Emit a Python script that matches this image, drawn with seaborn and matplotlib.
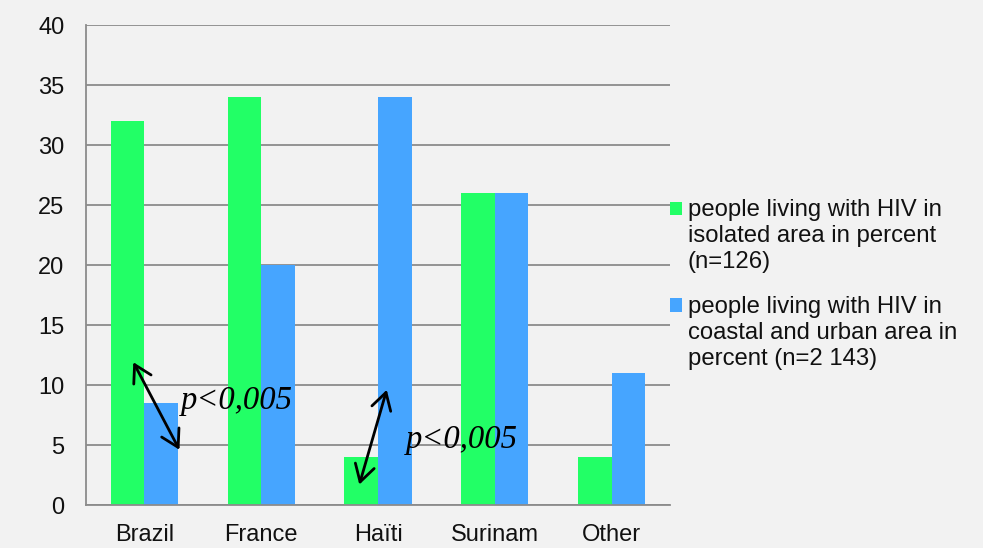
import matplotlib
matplotlib.use("Agg")
import matplotlib.pyplot as plt
import matplotlib.patches as mpatches
from matplotlib.legend_handler import HandlerPatch
import seaborn as sns
import pandas as pd

# Country of origin of people living with HIV, by area of residence
countries = ["Brazil", "France", "Haïti", "Surinam", "Other"]
isolated_pct = [32, 34, 4, 26, 4]
coastal_pct = [8.5, 20, 34, 26, 11]
series_labels = [
    "people living with HIV in\nisolated area in percent\n(n=126)",
    "people living with HIV in\ncoastal and urban area in\npercent (n=2 143)",
]
y_ticks = [0, 5, 10, 15, 20, 25, 30, 35, 40]

df = pd.DataFrame({
    "country": countries * 2,
    "percent": isolated_pct + coastal_pct,
    "group": [series_labels[0]] * len(countries) + [series_labels[1]] * len(countries),
})

sns.set_style("white")
plt.rcParams["font.family"] = ["Liberation Sans", "DejaVu Sans"]

bg = "#F2F2F2"
grid_c = "#8C8C8C"
text_c = "#111111"
fig = plt.figure(figsize=(9.83, 5.48), dpi=100, facecolor=bg)
ax = fig.add_axes([86 / 983, 1 - 505 / 548, (670 - 86) / 983, (505 - 25) / 548])
ax.set_facecolor(bg)

sns.barplot(data=df, x="country", y="percent", hue="group",
            palette=["#22FF66", "#46A5FF"], width=0.575, gap=0,
            saturation=1, linewidth=0, ax=ax)

ax.set_xlim(-0.5, len(countries) - 0.5)
ax.set_ylim(0, 40)
ax.set_yticks(y_ticks)
ax.set_xlabel("")
ax.set_ylabel("")
ax.yaxis.grid(True, color=grid_c, linewidth=1.3)
ax.set_axisbelow(True)
for side in ("top", "right"):
    ax.spines[side].set_visible(False)
for side in ("left", "bottom"):
    ax.spines[side].set_color(grid_c)
    ax.spines[side].set_linewidth(1.3)

# x ticks sit between the categories, labels at the centres
ax.set_xticks([i + 0.5 for i in range(-1, len(countries))], minor=False)
ax.set_xticklabels([])
ax.set_xticks(range(len(countries)), labels=countries, minor=True)
ax.tick_params(axis="x", which="major", length=3.8, width=1.3, color=grid_c, direction="out")
ax.tick_params(axis="x", which="minor", length=0, labelsize=17, pad=14, labelcolor=text_c)
ax.tick_params(axis="y", length=4.5, width=1.3, color=grid_c, direction="out",
               labelsize=17, pad=11, labelcolor=text_c)

# significance markers
arrow_kw = dict(arrowstyle="<->,head_length=0.55,head_width=0.32", color="black",
                lw=2, mutation_scale=22, shrinkA=0, shrinkB=0)
ax.annotate("", xy=(-0.095, 11.9), xytext=(0.30, 4.6), arrowprops=arrow_kw)
ax.annotate("", xy=(2.075, 9.6), xytext=(1.84, 1.7), arrowprops=arrow_kw)
pfont = dict(family="Liberation Serif", style="italic", fontsize=23.5, color="black")
ax.text(0.31, 8.7, "p<0,005", ha="left", va="center", **pfont)
ax.text(2.24, 5.45, "p<0,005", ha="left", va="center", **pfont)


class FirstLineSquare(HandlerPatch):
    """Square legend key lifted to sit beside the first line of a wrapped label."""

    def __init__(self, lift, **kw):
        super().__init__(**kw)
        self.lift = lift

    def create_artists(self, legend, orig_handle, xdescent, ydescent,
                       width, height, fontsize, trans):
        p = mpatches.Rectangle((-xdescent, -ydescent + self.lift), width, height,
                               facecolor=orig_handle.get_facecolor(),
                               edgecolor="none", transform=trans)
        return [p]


handles, labels = ax.get_legend_handles_labels()
lift = 20
leg = ax.legend(handles, labels, loc="upper left",
                bbox_to_anchor=(670 / 983, 1 - 199 / 548),
                bbox_transform=fig.transFigure, frameon=False,
                fontsize=17.2, handlelength=0.5, handleheight=0.5,
                handletextpad=0.25, labelspacing=0.93, borderaxespad=0,
                borderpad=0,
                handler_map={h: FirstLineSquare(lift) for h in handles})
for t in leg.get_texts():
    t.set_color(text_c)
    t.set_linespacing(1.25)

fig.savefig("out.png", dpi=100, facecolor=bg)
